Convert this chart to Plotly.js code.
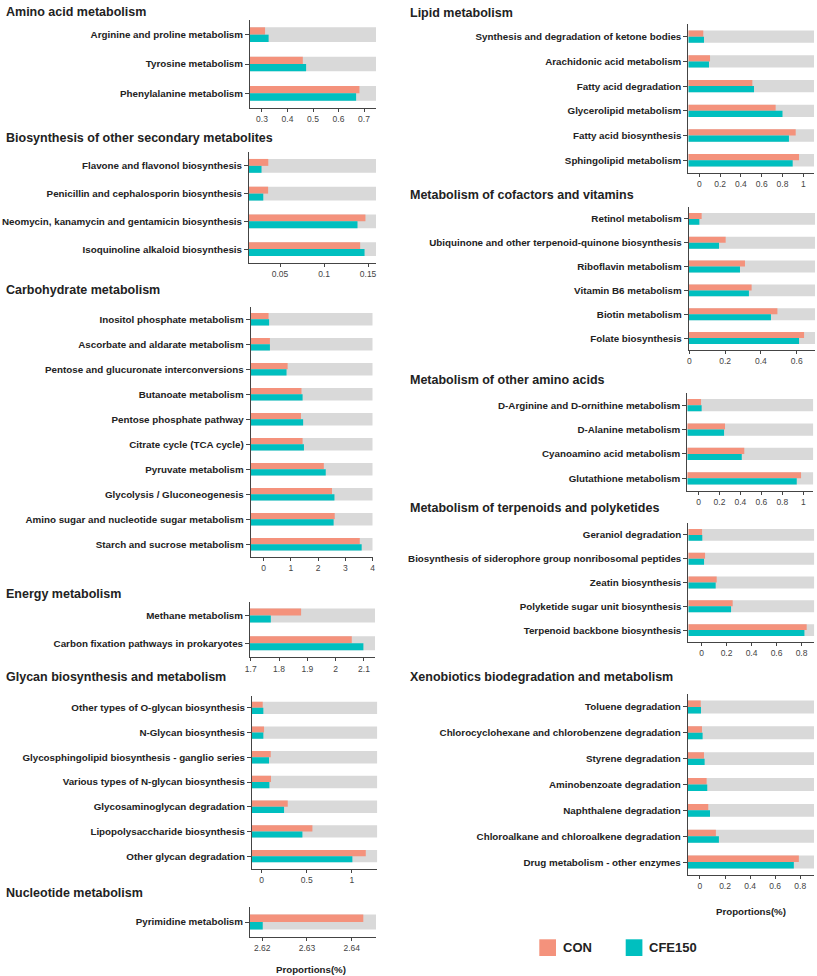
<!DOCTYPE html>
<html><head><meta charset="utf-8">
<script src="https://cdn.plot.ly/plotly-3.0.1.min.js"></script>
<style>html,body{margin:0;padding:0;background:#fff}#chart{width:817px;height:976px}</style>
</head><body><div id="chart"></div>
<script>
// ---------- DATA ----------
const aminoCats = ['Arginine and proline metabolism','Tyrosine metabolism','Phenylalanine metabolism'];
const aminoCON = [0.312, 0.460, 0.682];
const aminoCFE = [0.326, 0.473, 0.669];
const aminoTicks = [0.3, 0.4, 0.5, 0.6, 0.7];

const secCats = ['Flavone and flavonol biosynthesis','Penicillin and cephalosporin biosynthesis','Neomycin, kanamycin and gentamicin biosynthesis','Isoquinoline alkaloid biosynthesis'];
const secCON = [0.0367, 0.0365, 0.147, 0.141];
const secCFE = [0.029, 0.031, 0.138, 0.146];
const secTicks = [0.05, 0.1, 0.15];

const carbCats = ['Inositol phosphate metabolism','Ascorbate and aldarate metabolism','Pentose and glucuronate interconversions','Butanoate metabolism','Pentose phosphate pathway','Citrate cycle (TCA cycle)','Pyruvate metabolism','Glycolysis / Gluconeogenesis','Amino sugar and nucleotide sugar metabolism','Starch and sucrose metabolism'];
const carbCON = [0.18, 0.23, 0.88, 1.39, 1.37, 1.43, 2.21, 2.51, 2.61, 3.53];
const carbCFE = [0.20, 0.23, 0.84, 1.43, 1.45, 1.48, 2.28, 2.60, 2.57, 3.60];
const carbTicks = [0, 1, 2, 3, 4];

const enerCats = ['Methane metabolism','Carbon fixation pathways in prokaryotes'];
const enerCON = [1.878, 2.057];
const enerCFE = [1.771, 2.098];
const enerTicks = [1.7, 1.8, 1.9, 2, 2.1];

const glyCats = ['Other types of O-glycan biosynthesis','N-Glycan biosynthesis','Glycosphingolipid biosynthesis - ganglio series','Various types of N-glycan biosynthesis','Glycosaminoglycan degradation','Lipopolysaccharide biosynthesis','Other glycan degradation'];
const glyCON = [0.011, 0.026, 0.100, 0.103, 0.289, 0.563, 1.156];
const glyCFE = [0.018, 0.018, 0.081, 0.085, 0.248, 0.452, 1.007];
const glyTicks = [0, 0.5, 1];

const nucCats = ['Pyrimidine metabolism'];
const nucCON = [2.6426];
const nucCFE = [2.6201];
const nucTicks = [2.62, 2.63, 2.64];

const lipCats = ['Synthesis and degradation of ketone bodies','Arachidonic acid metabolism','Fatty acid degradation','Glycerolipid metabolism','Fatty acid biosynthesis','Sphingolipid metabolism'];
const lipCON = [0.038, 0.103, 0.510, 0.734, 0.927, 0.959];
const lipCFE = [0.045, 0.093, 0.526, 0.800, 0.862, 0.898];
const lipTicks = [0, 0.2, 0.4, 0.6, 0.8, 1];

const cofCats = ['Retinol metabolism','Ubiquinone and other terpenoid-quinone biosynthesis','Riboflavin metabolism','Vitamin B6 metabolism','Biotin metabolism','Folate biosynthesis'];
const cofCON = [0.069, 0.203, 0.311, 0.348, 0.492, 0.641];
const cofCFE = [0.056, 0.166, 0.283, 0.333, 0.456, 0.613];
const cofTicks = [0, 0.2, 0.4, 0.6];

const oaaCats = ['D-Arginine and D-ornithine metabolism','D-Alanine metabolism','Cyanoamino acid metabolism','Glutathione metabolism'];
const oaaCON = [0.024, 0.253, 0.437, 0.979];
const oaaCFE = [0.030, 0.244, 0.413, 0.938];
const oaaTicks = [0, 0.2, 0.4, 0.6, 0.8, 1];

const terCats = ['Geraniol degradation','Biosynthesis of siderophore group nonribosomal peptides','Zeatin biosynthesis','Polyketide sugar unit biosynthesis','Terpenoid backbone biosynthesis'];
const terCON = [0.004, 0.028, 0.121, 0.249, 0.841];
const terCFE = [0.006, 0.020, 0.113, 0.236, 0.823];
const terTicks = [0, 0.2, 0.4, 0.6, 0.8];

const xenCats = ['Toluene degradation','Chlorocyclohexane and chlorobenzene degradation','Styrene degradation','Aminobenzoate degradation','Naphthalene degradation','Chloroalkane and chloroalkene degradation','Drug metabolism - other enzymes'];
const xenCON = [0.006, 0.016, 0.032, 0.053, 0.066, 0.127, 0.789];
const xenCFE = [0.008, 0.021, 0.037, 0.058, 0.080, 0.151, 0.749];
const xenTicks = [0, 0.2, 0.4, 0.6, 0.8];

const seriesNames = ['CON', 'CFE150'];
const axisTitle = 'Proportions(%)';

// ---------- LAYOUT CONFIG ----------
const W = 817, H = 976;
const FONT = 'Liberation Sans, Arial, Helvetica, sans-serif';
const COL_CON = '#F4927C', COL_CFE = '#00BFBF', COL_BG = '#D9D9D9';

const panels = [
  {title:'Amino acid metabolism', cats:aminoCats, con:aminoCON, cfe:aminoCFE, ticks:aminoTicks, range:[0.253,0.747], box:[250,376,20,108], tx:4, ty:12},
  {title:'Biosynthesis of other secondary metabolites', cats:secCats, con:secCON, cfe:secCFE, ticks:secTicks, range:[0.0148,0.159], box:[249,376,152,263], tx:4, ty:138},
  {title:'Carbohydrate metabolism', cats:carbCats, con:carbCON, cfe:carbCFE, ticks:carbTicks, range:[-0.476,4.005], box:[250.7,372.7,306.7,556.7], tx:4, ty:290},
  {title:'Energy metabolism', cats:enerCats, con:enerCON, cfe:enerCFE, ticks:enerTicks, range:[1.6975,2.139], box:[250,375,601.5,657.3], tx:4, ty:594},
  {title:'Glycan biosynthesis and metabolism', cats:glyCats, con:glyCON, cfe:glyCFE, ticks:glyTicks, range:[-0.108,1.284], box:[252,377.3,695.5,868.5], tx:4, ty:677},
  {title:'Nucleotide metabolism', cats:nucCats, con:nucCON, cfe:nucCFE, ticks:nucTicks, range:[2.61725,2.64544], box:[250,376,907,937], tx:4, ty:893},
  {title:'Lipid metabolism', cats:lipCats, con:lipCON, cfe:lipCFE, ticks:lipTicks, range:[-0.106,1.103], box:[688.3,814,24.3,172.6], tx:408, ty:13},
  {title:'Metabolism of cofactors and vitamins', cats:cofCats, con:cofCON, cfe:cofCFE, ticks:cofTicks, range:[-0.0034,0.702], box:[688.7,815,207,350], tx:408, ty:195},
  {title:'Metabolism of other amino acids', cats:oaaCats, con:oaaCON, cfe:oaaCFE, ticks:oaaTicks, range:[-0.107,1.096], box:[687.3,813.3,393,490.5], tx:408, ty:380},
  {title:'Metabolism of terpenoids and polyketides', cats:terCats, con:terCON, cfe:terCFE, ticks:terTicks, range:[-0.106,0.902], box:[688.3,814.3,523,642], tx:408, ty:508},
  {title:'Xenobiotics biodegradation and metabolism', cats:xenCats, con:xenCON, cfe:xenCFE, ticks:xenTicks, range:[-0.098,0.91], box:[687.7,814,694,875], tx:408, ty:677}
];

const traces = [];
const layout = {
  width: W, height: H,
  margin: {l:0, r:0, t:0, b:0},
  paper_bgcolor: '#fff', plot_bgcolor: 'rgba(0,0,0,0)',
  showlegend: false, barmode: 'overlay',
  font: {family: FONT, color: '#222'},
  annotations: [], shapes: []
};

panels.forEach((p, i) => {
  const k = i === 0 ? '' : String(i + 1);
  const xa = 'x' + k, ya = 'y' + k;
  const base = p.range[0];
  const common = {type:'bar', orientation:'h', y:p.cats, base:base, xaxis:xa, yaxis:ya, hoverinfo:'skip'};
  traces.push(Object.assign({}, common, {x:p.cats.map(() => p.range[1] - base), width:0.5, offset:-0.25, marker:{color:COL_BG}, name:'bg'}));
  traces.push(Object.assign({}, common, {x:p.con.map(v => v - base), width:0.25, offset:-0.25, marker:{color:COL_CON}, name:seriesNames[0]}));
  traces.push(Object.assign({}, common, {x:p.cfe.map(v => v - base), width:0.25, offset:0, marker:{color:COL_CFE}, name:seriesNames[1]}));

  layout['xaxis' + k] = {
    domain:[p.box[0] / W, p.box[1] / W], range:p.range, anchor:ya,
    showline:true, linecolor:'#444', linewidth:1, mirror:false,
    ticks:'outside', ticklen:3, tickcolor:'#444', tickwidth:1,
    tickvals:p.ticks, ticktext:p.ticks.map(String),
    tickfont:{size:8.5, color:'#444', family:FONT},
    showgrid:false, zeroline:false, fixedrange:true, automargin:false
  };
  layout['yaxis' + k] = {
    domain:[1 - p.box[3] / H, 1 - p.box[2] / H], anchor:xa,
    type:'category', categoryorder:'array', categoryarray:p.cats,
    range:[p.cats.length - 0.5, -0.5],
    showline:true, linecolor:'#444', linewidth:1,
    ticks:'outside', ticklen:4, tickcolor:'#444', tickwidth:1,
    tickfont:{size:9.8, color:'#222', family:FONT, weight:700},
    showgrid:false, zeroline:false, fixedrange:true, automargin:false
  };
  layout.annotations.push({
    xref:'paper', yref:'paper', x:p.tx / W, y:1 - p.ty / H, xanchor:'left', yanchor:'middle',
    text:p.title, showarrow:false, font:{size:12.5, color:'#222', family:FONT, weight:700}
  });
});

// axis titles
[[311, 969.3], [751, 911]].forEach(([x, y]) => {
  layout.annotations.push({xref:'paper', yref:'paper', x:x / W, y:1 - y / H, xanchor:'center', yanchor:'middle',
    text:axisTitle, showarrow:false, font:{size:9.7, color:'#222', family:FONT, weight:700}});
});

// legend
[[539.3, COL_CON, seriesNames[0]], [625.7, COL_CFE, seriesNames[1]]].forEach(([x, c, t]) => {
  layout.shapes.push({type:'rect', xref:'paper', yref:'paper', x0:x / W, x1:(x + 16.7) / W,
    y0:1 - 956 / H, y1:1 - 939.3 / H, fillcolor:c, line:{width:0}});
  layout.annotations.push({xref:'paper', yref:'paper', x:(x + 21.5) / W, y:1 - 947.7 / H, xanchor:'left', yanchor:'middle',
    text:t, showarrow:false, font:{size:13, color:'#222', family:FONT, weight:700}});
});

Plotly.newPlot('chart', traces, layout, {displayModeBar:false, staticPlot:true});
</script>
</body></html>
